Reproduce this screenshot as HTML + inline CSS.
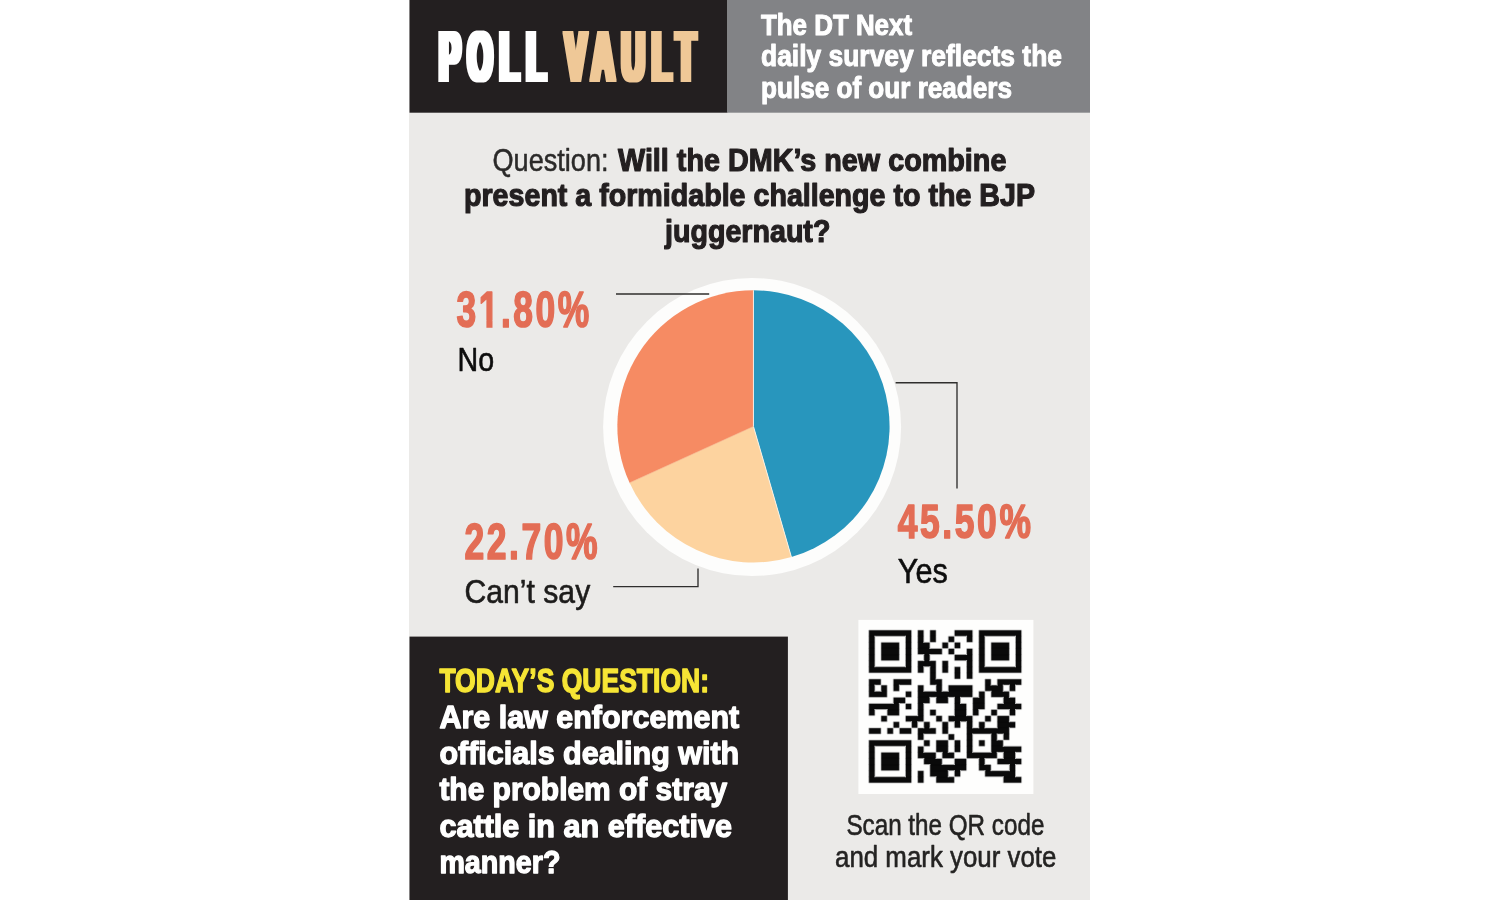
<!DOCTYPE html>
<html lang="en"><head><meta charset="utf-8"><title>Poll Vault</title>
<style>
html,body{margin:0;padding:0;background:#ffffff;width:1500px;height:900px;overflow:hidden}
svg{display:block;font-family:"Liberation Sans",sans-serif}
</style></head><body>
<svg width="1500" height="900" viewBox="0 0 1500 900">
<rect x="409" y="0" width="681" height="900" fill="#ebeae8"/>
<rect x="409.5" y="0" width="318" height="112.7" fill="#231f20"/>
<rect x="727.2" y="0" width="362.8" height="112.7" fill="#828386"/>
<rect x="409.5" y="636.6" width="378.4" height="264" fill="#231f20"/>
<g id="header" role="banner">
<defs><filter id="fat" filterUnits="userSpaceOnUse" x="400" y="0" width="340" height="120"><feMorphology operator="dilate" radius="3 1"/></filter></defs>
<g filter="url(#fat)"><text transform="translate(439.3,81) scale(0.454,1)" font-size="69.8" font-weight="bold" fill="#ffffff" letter-spacing="16.3">POLL</text></g>
<g filter="url(#fat)"><text transform="translate(565.2,81) scale(0.454,1)" font-size="69.8" font-weight="bold" fill="#efc897" letter-spacing="16.3">VAULT</text></g>
<text x="761" y="35.2" font-size="29.3" font-weight="bold" fill="#ffffff" stroke="#ffffff" stroke-width="1" stroke-linejoin="round" textLength="151" lengthAdjust="spacingAndGlyphs" >The DT Next</text>
<text x="761" y="66.4" font-size="29.3" font-weight="bold" fill="#ffffff" stroke="#ffffff" stroke-width="1" stroke-linejoin="round" textLength="301" lengthAdjust="spacingAndGlyphs" >daily survey reflects the</text>
<text x="761" y="97.8" font-size="29.3" font-weight="bold" fill="#ffffff" stroke="#ffffff" stroke-width="1" stroke-linejoin="round" textLength="251" lengthAdjust="spacingAndGlyphs" >pulse of our readers</text>
</g>
<g id="poll-question">
<text x="492.5" y="171" font-size="31.6" font-weight="normal" fill="#2b2a29" stroke="#2b2a29" stroke-width="0.5" stroke-linejoin="round" textLength="116" lengthAdjust="spacingAndGlyphs" >Question:</text>
<text x="618" y="170.6" font-size="31.5" font-weight="bold" fill="#231f20" stroke="#231f20" stroke-width="1.2" stroke-linejoin="round" textLength="388.4" lengthAdjust="spacingAndGlyphs" >Will the DMK’s new combine</text>
<text x="464" y="205.6" font-size="31.5" font-weight="bold" fill="#231f20" stroke="#231f20" stroke-width="1.2" stroke-linejoin="round" textLength="571" lengthAdjust="spacingAndGlyphs" >present a formidable challenge to the BJP</text>
<text x="665" y="241.6" font-size="31.5" font-weight="bold" fill="#231f20" stroke="#231f20" stroke-width="1.2" stroke-linejoin="round" textLength="165.4" lengthAdjust="spacingAndGlyphs" >juggernaut?</text>
</g>
<g id="pie-chart" role="img" aria-label="Poll result pie chart">
<circle cx="752.1" cy="427" r="149" fill="#fdfdfc"/>
<path d="M753.45,426.4 L753.45,290.30 A136.1,136.1 0 0 1 791.42,557.10 Z" fill="#2896bd"/>
<path d="M753.45,426.4 L791.42,557.10 A136.1,136.1 0 0 1 629.58,482.80 Z" fill="#fdd39f"/>
<path d="M753.45,426.4 L629.58,482.80 A136.1,136.1 0 0 1 753.45,290.30 Z" fill="#f68b63"/>
<line x1="753.45" y1="426.4" x2="753.45" y2="290.30" stroke="#f4ece4" stroke-opacity="1" stroke-width="1"/>
<line x1="753.45" y1="426.4" x2="791.42" y2="557.10" stroke="#f6f0e4" stroke-opacity="1" stroke-width="1"/>
<line x1="753.45" y1="426.4" x2="629.58" y2="482.80" stroke="#f7b48a" stroke-opacity="0.6" stroke-width="1"/>
<path d="M616,294 H709.2" stroke="#2f2e2d" stroke-width="1.35" fill="none"/>
<path d="M895.6,382.7 H957 V488.5" stroke="#2f2e2d" stroke-width="1.35" fill="none"/>
<path d="M613.2,586.6 H698 V568.4" stroke="#2f2e2d" stroke-width="1.35" fill="none"/>
<text x="456.4" y="327.2" font-size="49.8" font-weight="bold" fill="#e36d55" stroke="#e36d55" stroke-width="1.7" stroke-linejoin="round" textLength="135.4" lengthAdjust="spacingAndGlyphs" letter-spacing="3.6">31.80%</text>
<rect x="477.6" y="320.6" width="8.8" height="8.6" fill="#ebeae8"/><rect x="492.5" y="320.6" width="7.6" height="8.6" fill="#ebeae8"/>
<text x="457.6" y="371.2" font-size="34" font-weight="normal" fill="#0d0d0d" stroke="#0d0d0d" stroke-width="0.6" stroke-linejoin="round" textLength="36.6" lengthAdjust="spacingAndGlyphs" >No</text>
<text x="464.4" y="559.0" font-size="49.8" font-weight="bold" fill="#e36d55" stroke="#e36d55" stroke-width="1.7" stroke-linejoin="round" textLength="135.8" lengthAdjust="spacingAndGlyphs" letter-spacing="3.6">22.70%</text>
<text x="464.6" y="602.8" font-size="33.2" font-weight="normal" fill="#1d1c1b" stroke="#1d1c1b" stroke-width="0.6" stroke-linejoin="round" textLength="125.6" lengthAdjust="spacingAndGlyphs" >Can’t say</text>
<text x="897.7" y="538.4" font-size="48.8" font-weight="bold" fill="#e36d55" stroke="#e36d55" stroke-width="1.7" stroke-linejoin="round" textLength="135.8" lengthAdjust="spacingAndGlyphs" letter-spacing="3.6">45.50%</text>
<text x="897.8" y="582.9" font-size="35" font-weight="normal" fill="#0d0d0d" stroke="#0d0d0d" stroke-width="0.6" stroke-linejoin="round" textLength="50" lengthAdjust="spacingAndGlyphs" >Yes</text>
</g>
<g id="todays-question">
<text x="439.4" y="691.7" font-size="33.2" font-weight="bold" fill="#f6e535" stroke="#f6e535" stroke-width="1.4" stroke-linejoin="round" textLength="269.6" lengthAdjust="spacingAndGlyphs" >TODAY’S QUESTION:</text>
<text x="439.4" y="727.7" font-size="31.6" font-weight="bold" fill="#ffffff" stroke="#ffffff" stroke-width="1.3" stroke-linejoin="round" textLength="299.8" lengthAdjust="spacingAndGlyphs" >Are law enforcement</text>
<text x="439.4" y="764.0" font-size="31.6" font-weight="bold" fill="#ffffff" stroke="#ffffff" stroke-width="1.3" stroke-linejoin="round" textLength="299.8" lengthAdjust="spacingAndGlyphs" >officials dealing with</text>
<text x="439.4" y="800.3" font-size="31.6" font-weight="bold" fill="#ffffff" stroke="#ffffff" stroke-width="1.3" stroke-linejoin="round" textLength="287.8" lengthAdjust="spacingAndGlyphs" >the problem of stray</text>
<text x="439.4" y="836.6" font-size="31.6" font-weight="bold" fill="#ffffff" stroke="#ffffff" stroke-width="1.3" stroke-linejoin="round" textLength="292.6" lengthAdjust="spacingAndGlyphs" >cattle in an effective</text>
<text x="439.4" y="872.9" font-size="31.6" font-weight="bold" fill="#ffffff" stroke="#ffffff" stroke-width="1.3" stroke-linejoin="round" textLength="121" lengthAdjust="spacingAndGlyphs" >manner?</text>
</g>
<g id="qr-vote">
<rect x="858.4" y="619.9" width="175" height="174.1" fill="#fefefd"/>
<path d="M868.80,630.10h42.78v6.11h-42.78zM917.70,630.10h6.11v6.11h-6.11zM929.92,630.10h6.11v6.11h-6.11zM954.37,630.10h18.34v6.11h-18.34zM978.82,630.10h42.78v6.11h-42.78zM868.80,636.21h6.11v6.11h-6.11zM905.47,636.21h6.11v6.11h-6.11zM917.70,636.21h6.11v6.11h-6.11zM929.92,636.21h6.11v6.11h-6.11zM948.26,636.21h6.11v6.11h-6.11zM966.59,636.21h6.11v6.11h-6.11zM978.82,636.21h6.11v6.11h-6.11zM1015.49,636.21h6.11v6.11h-6.11zM868.80,642.32h6.11v6.11h-6.11zM881.02,642.32h18.34v6.11h-18.34zM905.47,642.32h6.11v6.11h-6.11zM917.70,642.32h12.22v6.11h-12.22zM942.14,642.32h6.11v6.11h-6.11zM954.37,642.32h6.11v6.11h-6.11zM978.82,642.32h6.11v6.11h-6.11zM991.04,642.32h18.34v6.11h-18.34zM1015.49,642.32h6.11v6.11h-6.11zM868.80,648.44h6.11v6.11h-6.11zM881.02,648.44h18.34v6.11h-18.34zM905.47,648.44h6.11v6.11h-6.11zM917.70,648.44h24.45v6.11h-24.45zM948.26,648.44h6.11v6.11h-6.11zM966.59,648.44h6.11v6.11h-6.11zM978.82,648.44h6.11v6.11h-6.11zM991.04,648.44h18.34v6.11h-18.34zM1015.49,648.44h6.11v6.11h-6.11zM868.80,654.55h6.11v6.11h-6.11zM881.02,654.55h18.34v6.11h-18.34zM905.47,654.55h6.11v6.11h-6.11zM923.81,654.55h6.11v6.11h-6.11zM954.37,654.55h18.34v6.11h-18.34zM978.82,654.55h6.11v6.11h-6.11zM991.04,654.55h18.34v6.11h-18.34zM1015.49,654.55h6.11v6.11h-6.11zM868.80,660.66h6.11v6.11h-6.11zM905.47,660.66h6.11v6.11h-6.11zM917.70,660.66h18.34v6.11h-18.34zM942.14,660.66h6.11v6.11h-6.11zM966.59,660.66h6.11v6.11h-6.11zM978.82,660.66h6.11v6.11h-6.11zM1015.49,660.66h6.11v6.11h-6.11zM868.80,666.77h42.78v6.11h-42.78zM917.70,666.77h6.11v6.11h-6.11zM929.92,666.77h6.11v6.11h-6.11zM942.14,666.77h6.11v6.11h-6.11zM954.37,666.77h6.11v6.11h-6.11zM966.59,666.77h6.11v6.11h-6.11zM978.82,666.77h42.78v6.11h-42.78zM929.92,672.88h6.11v6.11h-6.11zM954.37,672.88h6.11v6.11h-6.11zM966.59,672.88h6.11v6.11h-6.11zM868.80,679.00h12.22v6.11h-12.22zM893.25,679.00h18.34v6.11h-18.34zM929.92,679.00h12.22v6.11h-12.22zM984.93,679.00h6.11v6.11h-6.11zM997.15,679.00h24.45v6.11h-24.45zM868.80,685.11h6.11v6.11h-6.11zM881.02,685.11h6.11v6.11h-6.11zM893.25,685.11h6.11v6.11h-6.11zM917.70,685.11h6.11v6.11h-6.11zM936.03,685.11h6.11v6.11h-6.11zM948.26,685.11h24.45v6.11h-24.45zM984.93,685.11h18.34v6.11h-18.34zM1009.38,685.11h6.11v6.11h-6.11zM868.80,691.22h18.34v6.11h-18.34zM905.47,691.22h6.11v6.11h-6.11zM917.70,691.22h55.01v6.11h-55.01zM978.82,691.22h6.11v6.11h-6.11zM991.04,691.22h18.34v6.11h-18.34zM893.25,697.33h12.22v6.11h-12.22zM917.70,697.33h12.22v6.11h-12.22zM936.03,697.33h12.22v6.11h-12.22zM954.37,697.33h6.11v6.11h-6.11zM972.70,697.33h12.22v6.11h-12.22zM1003.26,697.33h12.22v6.11h-12.22zM868.80,703.44h30.56v6.11h-30.56zM905.47,703.44h6.11v6.11h-6.11zM917.70,703.44h6.11v6.11h-6.11zM954.37,703.44h12.22v6.11h-12.22zM972.70,703.44h12.22v6.11h-12.22zM997.15,703.44h24.45v6.11h-24.45zM868.80,709.56h6.11v6.11h-6.11zM887.14,709.56h12.22v6.11h-12.22zM917.70,709.56h6.11v6.11h-6.11zM929.92,709.56h6.11v6.11h-6.11zM954.37,709.56h12.22v6.11h-12.22zM972.70,709.56h6.11v6.11h-6.11zM991.04,709.56h6.11v6.11h-6.11zM1009.38,709.56h6.11v6.11h-6.11zM881.02,715.67h6.11v6.11h-6.11zM905.47,715.67h18.34v6.11h-18.34zM936.03,715.67h6.11v6.11h-6.11zM948.26,715.67h24.45v6.11h-24.45zM984.93,715.67h6.11v6.11h-6.11zM997.15,715.67h12.22v6.11h-12.22zM893.25,721.78h6.11v6.11h-6.11zM911.58,721.78h6.11v6.11h-6.11zM923.81,721.78h6.11v6.11h-6.11zM942.14,721.78h6.11v6.11h-6.11zM954.37,721.78h6.11v6.11h-6.11zM966.59,721.78h6.11v6.11h-6.11zM978.82,721.78h6.11v6.11h-6.11zM997.15,721.78h18.34v6.11h-18.34zM868.80,727.89h12.22v6.11h-12.22zM887.14,727.89h6.11v6.11h-6.11zM899.36,727.89h12.22v6.11h-12.22zM917.70,727.89h18.34v6.11h-18.34zM942.14,727.89h6.11v6.11h-6.11zM966.59,727.89h42.78v6.11h-42.78zM917.70,734.00h6.11v6.11h-6.11zM948.26,734.00h6.11v6.11h-6.11zM966.59,734.00h6.11v6.11h-6.11zM991.04,734.00h6.11v6.11h-6.11zM1003.26,734.00h6.11v6.11h-6.11zM868.80,740.12h42.78v6.11h-42.78zM923.81,740.12h6.11v6.11h-6.11zM936.03,740.12h12.22v6.11h-12.22zM954.37,740.12h6.11v6.11h-6.11zM966.59,740.12h6.11v6.11h-6.11zM978.82,740.12h6.11v6.11h-6.11zM991.04,740.12h12.22v6.11h-12.22zM868.80,746.23h6.11v6.11h-6.11zM905.47,746.23h6.11v6.11h-6.11zM917.70,746.23h6.11v6.11h-6.11zM936.03,746.23h12.22v6.11h-12.22zM954.37,746.23h6.11v6.11h-6.11zM966.59,746.23h6.11v6.11h-6.11zM991.04,746.23h30.56v6.11h-30.56zM868.80,752.34h6.11v6.11h-6.11zM881.02,752.34h18.34v6.11h-18.34zM905.47,752.34h6.11v6.11h-6.11zM917.70,752.34h18.34v6.11h-18.34zM942.14,752.34h12.22v6.11h-12.22zM966.59,752.34h30.56v6.11h-30.56zM1003.26,752.34h12.22v6.11h-12.22zM868.80,758.45h6.11v6.11h-6.11zM881.02,758.45h18.34v6.11h-18.34zM905.47,758.45h6.11v6.11h-6.11zM923.81,758.45h18.34v6.11h-18.34zM954.37,758.45h12.22v6.11h-12.22zM978.82,758.45h6.11v6.11h-6.11zM997.15,758.45h24.45v6.11h-24.45zM868.80,764.56h6.11v6.11h-6.11zM881.02,764.56h18.34v6.11h-18.34zM905.47,764.56h6.11v6.11h-6.11zM929.92,764.56h36.67v6.11h-36.67zM978.82,764.56h12.22v6.11h-12.22zM1009.38,764.56h6.11v6.11h-6.11zM868.80,770.68h6.11v6.11h-6.11zM905.47,770.68h6.11v6.11h-6.11zM917.70,770.68h6.11v6.11h-6.11zM929.92,770.68h18.34v6.11h-18.34zM954.37,770.68h6.11v6.11h-6.11zM984.93,770.68h30.56v6.11h-30.56zM868.80,776.79h42.78v6.11h-42.78zM917.70,776.79h6.11v6.11h-6.11zM936.03,776.79h18.34v6.11h-18.34zM1003.26,776.79h18.34v6.11h-18.34z" fill="#0a0a0a" stroke="#0a0a0a" stroke-width="0.3"/>
<path d="M868.80,630.10h42.78M917.70,630.10h6.11M929.92,630.10h6.11M954.37,630.10h18.34M978.82,630.10h42.78M874.91,636.21h30.56M948.26,636.21h18.34M984.93,636.21h30.56M881.02,642.32h18.34M923.81,642.32h12.22M942.14,642.32h18.34M966.59,642.32h6.11M991.04,642.32h18.34M929.92,648.44h30.56M966.59,648.44h6.11M917.70,654.55h6.11M929.92,654.55h12.22M948.26,654.55h18.34M881.02,660.66h18.34M917.70,660.66h6.11M929.92,660.66h6.11M942.14,660.66h6.11M954.37,660.66h12.22M991.04,660.66h18.34M874.91,666.77h30.56M923.81,666.77h6.11M954.37,666.77h6.11M984.93,666.77h30.56M868.80,672.88h42.78M917.70,672.88h6.11M942.14,672.88h6.11M978.82,672.88h42.78M868.80,679.00h12.22M893.25,679.00h18.34M936.03,679.00h6.11M954.37,679.00h6.11M966.59,679.00h6.11M984.93,679.00h6.11M997.15,679.00h24.45M874.91,685.11h12.22M899.36,685.11h12.22M917.70,685.11h6.11M929.92,685.11h6.11M948.26,685.11h24.45M991.04,685.11h6.11M1003.26,685.11h6.11M1015.49,685.11h6.11M874.91,691.22h6.11M893.25,691.22h6.11M905.47,691.22h6.11M923.81,691.22h12.22M942.14,691.22h6.11M978.82,691.22h12.22M1003.26,691.22h12.22M868.80,697.33h18.34M893.25,697.33h18.34M929.92,697.33h6.11M948.26,697.33h6.11M960.48,697.33h18.34M991.04,697.33h12.22M1009.38,697.33h6.11M868.80,703.44h24.45M899.36,703.44h12.22M923.81,703.44h6.11M936.03,703.44h12.22M960.48,703.44h6.11M997.15,703.44h6.11M1015.49,703.44h6.11M874.91,709.56h12.22M905.47,709.56h6.11M929.92,709.56h6.11M978.82,709.56h6.11M991.04,709.56h18.34M1015.49,709.56h6.11M868.80,715.67h6.11M881.02,715.67h18.34M905.47,715.67h12.22M929.92,715.67h12.22M948.26,715.67h6.11M966.59,715.67h12.22M984.93,715.67h30.56M881.02,721.78h6.11M893.25,721.78h6.11M905.47,721.78h6.11M917.70,721.78h12.22M936.03,721.78h18.34M960.48,721.78h6.11M978.82,721.78h12.22M1009.38,721.78h6.11M868.80,727.89h12.22M887.14,727.89h36.67M929.92,727.89h6.11M954.37,727.89h6.11M972.70,727.89h6.11M984.93,727.89h12.22M1009.38,727.89h6.11M868.80,734.00h12.22M887.14,734.00h6.11M899.36,734.00h12.22M923.81,734.00h12.22M942.14,734.00h12.22M972.70,734.00h18.34M997.15,734.00h6.11M868.80,740.12h42.78M917.70,740.12h12.22M936.03,740.12h24.45M978.82,740.12h6.11M997.15,740.12h12.22M874.91,746.23h30.56M917.70,746.23h12.22M978.82,746.23h6.11M1003.26,746.23h18.34M881.02,752.34h18.34M923.81,752.34h18.34M948.26,752.34h12.22M972.70,752.34h18.34M997.15,752.34h6.11M1015.49,752.34h6.11M917.70,758.45h6.11M936.03,758.45h42.78M984.93,758.45h18.34M1015.49,758.45h6.11M923.81,764.56h6.11M942.14,764.56h12.22M984.93,764.56h6.11M997.15,764.56h12.22M1015.49,764.56h6.11M881.02,770.68h18.34M917.70,770.68h6.11M948.26,770.68h6.11M960.48,770.68h6.11M978.82,770.68h6.11M991.04,770.68h18.34M874.91,776.79h30.56M929.92,776.79h6.11M948.26,776.79h12.22M984.93,776.79h18.34M1015.49,776.79h6.11M868.80,782.90h42.78M917.70,782.90h6.11M936.03,782.90h18.34M1003.26,782.90h18.34M868.80,630.10v42.78M868.80,679.00v18.34M868.80,703.44v12.22M868.80,727.89v6.11M868.80,740.12v42.78M874.91,636.21v30.56M874.91,685.11v6.11M874.91,709.56v6.11M874.91,746.23v30.56M881.02,642.32v18.34M881.02,679.00v12.22M881.02,715.67v6.11M881.02,727.89v6.11M881.02,752.34v18.34M887.14,685.11v12.22M887.14,709.56v12.22M887.14,727.89v6.11M893.25,679.00v12.22M893.25,697.33v6.11M893.25,721.78v12.22M899.36,642.32v18.34M899.36,685.11v6.11M899.36,703.44v12.22M899.36,721.78v12.22M899.36,752.34v18.34M905.47,636.21v30.56M905.47,691.22v18.34M905.47,715.67v6.11M905.47,746.23v30.56M911.58,630.10v42.78M911.58,679.00v6.11M911.58,691.22v6.11M911.58,703.44v6.11M911.58,721.78v12.22M911.58,740.12v42.78M917.70,630.10v24.45M917.70,660.66v12.22M917.70,685.11v30.56M917.70,721.78v18.34M917.70,746.23v12.22M917.70,770.68v12.22M923.81,630.10v12.22M923.81,654.55v6.11M923.81,666.77v6.11M923.81,685.11v6.11M923.81,703.44v24.45M923.81,734.00v18.34M923.81,758.45v6.11M923.81,770.68v12.22M929.92,630.10v18.34M929.92,654.55v6.11M929.92,666.77v18.34M929.92,697.33v6.11M929.92,709.56v6.11M929.92,721.78v6.11M929.92,740.12v6.11M929.92,764.56v12.22M936.03,630.10v12.22M936.03,660.66v18.34M936.03,685.11v6.11M936.03,697.33v6.11M936.03,709.56v12.22M936.03,727.89v6.11M936.03,740.12v18.34M936.03,776.79v6.11M942.14,642.32v12.22M942.14,660.66v12.22M942.14,679.00v12.22M942.14,715.67v18.34M942.14,752.34v12.22M948.26,636.21v18.34M948.26,660.66v12.22M948.26,685.11v6.11M948.26,697.33v6.11M948.26,715.67v36.67M948.26,770.68v6.11M954.37,630.10v30.56M954.37,666.77v12.22M954.37,697.33v18.34M954.37,721.78v6.11M954.37,734.00v30.56M954.37,770.68v12.22M960.48,642.32v6.11M960.48,666.77v12.22M960.48,697.33v6.11M960.48,721.78v6.11M960.48,740.12v12.22M960.48,770.68v6.11M966.59,636.21v6.11M966.59,648.44v6.11M966.59,660.66v18.34M966.59,703.44v12.22M966.59,721.78v48.90M972.70,630.10v12.22M972.70,648.44v30.56M972.70,685.11v42.78M972.70,734.00v18.34M978.82,630.10v42.78M978.82,691.22v6.11M978.82,709.56v6.11M978.82,721.78v6.11M978.82,740.12v6.11M978.82,758.45v12.22M984.93,636.21v30.56M984.93,679.00v30.56M984.93,715.67v12.22M984.93,740.12v6.11M984.93,758.45v6.11M984.93,770.68v6.11M991.04,642.32v18.34M991.04,679.00v6.11M991.04,691.22v6.11M991.04,709.56v12.22M991.04,734.00v18.34M991.04,764.56v6.11M997.15,679.00v6.11M997.15,703.44v24.45M997.15,734.00v6.11M997.15,752.34v12.22M1003.26,685.11v6.11M1003.26,697.33v6.11M1003.26,734.00v12.22M1003.26,752.34v6.11M1003.26,776.79v6.11M1009.38,642.32v18.34M1009.38,685.11v12.22M1009.38,709.56v12.22M1009.38,727.89v12.22M1009.38,764.56v6.11M1015.49,636.21v30.56M1015.49,685.11v6.11M1015.49,697.33v6.11M1015.49,709.56v6.11M1015.49,721.78v6.11M1015.49,752.34v6.11M1015.49,764.56v12.22M1021.60,630.10v42.78M1021.60,679.00v6.11M1021.60,703.44v6.11M1021.60,746.23v6.11M1021.60,758.45v6.11M1021.60,776.79v6.11" fill="none" stroke="#ffffff" stroke-width="0.45" stroke-linecap="square"/>
<text x="846.4" y="834.8" font-size="30" font-weight="normal" fill="#242322" stroke="#242322" stroke-width="0.6" stroke-linejoin="round" textLength="198" lengthAdjust="spacingAndGlyphs" >Scan the QR code</text>
<text x="835" y="867.2" font-size="30" font-weight="normal" fill="#242322" stroke="#242322" stroke-width="0.6" stroke-linejoin="round" textLength="221.4" lengthAdjust="spacingAndGlyphs" >and mark your vote</text>
</g>
</svg>
</body></html>
